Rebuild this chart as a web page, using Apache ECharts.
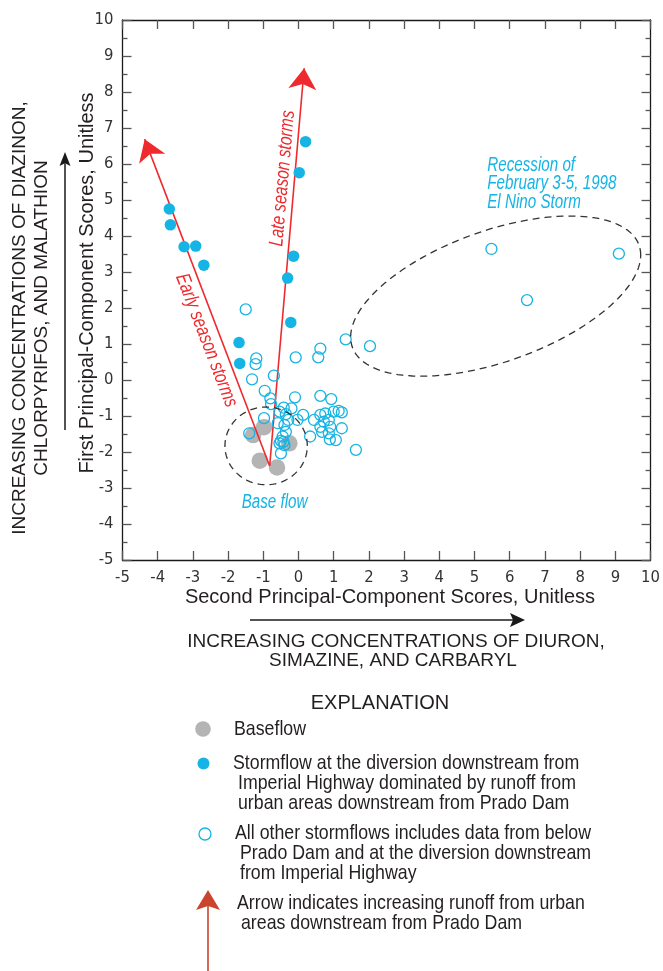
<!DOCTYPE html>
<html>
<head>
<meta charset="utf-8">
<script src="https://cdn.jsdelivr.net/npm/echarts@6/dist/echarts.min.js"></script>
<style>
  html, body { margin: 0; padding: 0; background: #fff; }
  #chart { width: 663px; height: 971px; }
</style>
</head>
<body>
<div id="chart"></div>
<script>
// Principal-component scores: [second PC score, first PC score]
const baseflow = [
  [-0.98, -1.31], [-1.29, -1.53], [-1.10, -2.24], [-0.61, -2.43], [-0.26, -1.76]
];
const urbanStormflow = [
  [0.20, 6.62], [0.02, 5.76], [-3.67, 4.75], [-3.64, 4.31], [-3.25, 3.70],
  [-2.92, 3.72], [-2.69, 3.19], [-0.14, 3.44], [-0.31, 2.83], [-0.22, 1.60],
  [-1.69, 1.04], [-1.67, 0.46]
];
const otherStormflow = [
  [-1.50, 1.96], [-1.20, 0.60], [-1.22, 0.44], [-1.32, 0.02], [-0.96, -0.30],
  [-0.70, 0.12], [-0.08, 0.63], [0.62, 0.87], [0.56, 0.63], [1.34, 1.13],
  [2.03, 0.94], [-0.80, -0.51], [-0.78, -0.67], [-0.10, -0.48], [0.62, -0.44],
  [0.93, -0.53], [-0.42, -0.77], [-0.20, -0.79], [-0.54, -0.88], [-0.36, -0.95],
  [-0.03, -1.11], [0.13, -0.97], [-0.29, -1.11], [-0.98, -1.06], [-0.59, -1.20],
  [-0.40, -1.25], [-0.36, -1.44], [-0.45, -1.57], [-0.50, -1.69], [-0.43, -1.72],
  [-0.54, -1.76], [-0.40, -1.81], [-0.50, -2.04], [-1.40, -1.48], [0.44, -1.11],
  [0.62, -0.97], [0.76, -0.93], [1.00, -0.88], [1.14, -0.86], [1.23, -0.90],
  [0.72, -1.16], [0.86, -1.11], [0.62, -1.30], [0.90, -1.30], [1.23, -1.34],
  [0.33, -1.57], [0.67, -1.44], [0.86, -1.48], [1.06, -1.67], [0.89, -1.65],
  [1.63, -1.94], [5.48, 3.64], [6.49, 2.22], [9.10, 3.51]
];
// Seasonal trend arrows start from the base-flow cluster
const trendOrigin = [-0.82, -2.39];
const earlySeasonTip = [-4.37, 6.69];
const lateSeasonTip = [0.16, 8.66];

const axisMin = -5, axisMax = 10, axisStep = 1;

const CYAN = '#15b4e4';
const RED = '#ee2a2e';
const GREY = '#b4b4b4';
const INK = '#231f20';
const CONDENSED = "'DejaVu Sans Condensed', 'DejaVu Sans', sans-serif";
const SANS = "'Liberation Sans', Arial, Helvetica, sans-serif";

const chart = echarts.init(document.getElementById('chart'), null, { renderer: 'canvas' });

function valueAxis(extra) {
  return Object.assign({
    type: 'value', min: axisMin, max: axisMax, interval: axisStep,
    axisLine: { show: true, onZero: false, lineStyle: { color: '#1a1a1a', width: 1.3 } },
    axisTick: { show: true, inside: true, length: 9, lineStyle: { color: '#555', width: 1.3 } },
    splitLine: { show: false },
    axisLabel: { show: false }
  }, extra);
}
const tickLabel = { show: true, fontFamily: CONDENSED, fontSize: 16.5, color: '#333', margin: 9 };
const minor = { show: true, splitNumber: 2, length: 5, lineStyle: { color: '#555', width: 1.3 } };

chart.setOption({
  animation: false,
  backgroundColor: '#fff',
  grid: { left: 122.5, top: 20, width: 536.5, height: 540, containLabel: false },
  xAxis: [
    valueAxis({ position: 'bottom', axisLabel: tickLabel }),
    valueAxis({ position: 'top' })
  ],
  yAxis: [
    valueAxis({ position: 'left', minorTick: minor, axisLabel: tickLabel }),
    valueAxis({ position: 'right', minorTick: minor })
  ],
  series: [
    {
      type: 'scatter', name: 'Baseflow', data: baseflow, symbolSize: 16.5,
      itemStyle: { color: GREY, opacity: 1 }, z: 2
    },
    {
      type: 'lines', coordinateSystem: 'cartesian2d', z: 3,
      symbol: ['none', 'arrow'], symbolSize: [17, 21],
      lineStyle: { color: RED, width: 1.6, opacity: 1, curveness: 0 },
      data: [
        { coords: [trendOrigin, earlySeasonTip] },
        { coords: [trendOrigin, lateSeasonTip] }
      ]
    },
    {
      type: 'scatter', name: 'All other stormflows', data: otherStormflow, symbolSize: 11,
      itemStyle: { color: 'rgba(255,255,255,0)', borderColor: CYAN, borderWidth: 1.3, opacity: 1 }, z: 4
    },
    {
      type: 'scatter', name: 'Stormflow', data: urbanStormflow, symbolSize: 11.5,
      itemStyle: { color: CYAN, opacity: 1 }, z: 5
    }
  ]
});

// ---- annotations and explanation ----
const toPx = (p) => chart.convertToPixel({ gridIndex: 0 }, p);
const origin = toPx([0, 0]);
const unitX = toPx([1, 0])[0] - origin[0];
const unitY = origin[1] - toPx([0, 1])[1];

// dashed outline: x = cx + a·cos t, y = cy + c·cos t + d·sin t (data units)
function ring(center, a, c, d) {
  const p0 = toPx(center);
  const pts = [];
  for (let i = 0; i <= 144; i++) {
    const t = i / 144 * Math.PI * 2;
    pts.push([p0[0] + a * Math.cos(t) * unitX, p0[1] - (c * Math.cos(t) + d * Math.sin(t)) * unitY]);
  }
  return {
    type: 'polyline', silent: true, z: 6,
    shape: { points: pts },
    style: { stroke: '#333', lineWidth: 1.3, lineDash: [7, 5], fill: null }
  };
}

function label(text, x, y, opts) {
  const o = opts || {};
  return {
    type: 'text', x: x, y: y, rotation: (o.rot || 0) * Math.PI / 180,
    scaleX: o.sx || 1, scaleY: 1, z: 10, silent: true,
    style: {
      text: text, x: 0, y: 0,
      fill: o.color || INK,
      font: (o.italic ? 'italic ' : '') + (o.size || 18) + 'px ' + (o.family || SANS),
      align: o.align || 'left', textAlign: o.align || 'left',
      verticalAlign: 'middle', textVerticalAlign: 'middle'
    }
  };
}
function dataLabel(text, pos, opts) {
  const p = toPx(pos);
  return label(text, p[0], p[1], opts);
}
function arrow(x1, y1, x2, y2, color, len, half, width) {
  const dx = x2 - x1, dy = y2 - y1, d = Math.hypot(dx, dy);
  const ux = dx / d, uy = dy / d, nx = -uy, ny = ux;
  const bx = x2 - ux * len, by = y2 - uy * len;
  const notch = [x2 - ux * len * 0.8, y2 - uy * len * 0.8];
  return [
    { type: 'line', silent: true, shape: { x1: x1, y1: y1, x2: notch[0], y2: notch[1] },
      style: { stroke: color, lineWidth: width } },
    { type: 'polygon', silent: true,
      shape: { points: [[x2, y2], [bx + nx * half, by + ny * half], notch, [bx - nx * half, by - ny * half]] },
      style: { fill: color } }
  ];
}

const note = { color: CYAN, size: 20, italic: true, sx: 0.76 };
const legend = { size: 21, sx: 0.845 };

const g = [];
g.push(ring([-0.92, -1.83], 1.17, 0, 1.08));
g.push(ring([5.60, 2.33], 4.12, 1.14, 1.91));

g.push(dataLabel('Early season storms', [-2.62, 1.10], { color: RED, size: 20, italic: true, sx: 0.78, align: 'center', rot: -68.9 }));
g.push(dataLabel('Late season storms', [-0.45, 5.60], { color: RED, size: 20, italic: true, sx: 0.78, align: 'center', rot: 85 }));
g.push(dataLabel('Recession of', [5.36, 5.97], note));
g.push(dataLabel('February 3-5, 1998', [5.36, 5.47], note));
g.push(dataLabel('El Nino Storm', [5.36, 4.94], note));
g.push(dataLabel('Base flow', [-0.68, -3.39], Object.assign({ align: 'center' }, note)));

// axis titles
g.push(label('Second Principal-Component Scores, Unitless', 390, 597, { size: 20, align: 'center' }));
g.push(label('First Principal-Component Scores, Unitless', 87, 283, { size: 20, align: 'center', rot: 90 }));
g.push(label('INCREASING CONCENTRATIONS OF DIURON,', 396, 642, { size: 19, align: 'center' }));
g.push(label('SIMAZINE, AND CARBARYL', 393, 661, { size: 19, align: 'center' }));
g.push(label('INCREASING CONCENTRATIONS OF DIAZINON,', 20, 318, { size: 19, align: 'center', rot: 90 }));
g.push(label('CHLORPYRIFOS, AND MALATHION', 42, 318, { size: 19, align: 'center', rot: 90 }));
arrow(250, 620, 525, 620, '#1a1a1a', 15, 7, 1.5).forEach(e => g.push(e));
arrow(65, 430, 65, 152, '#1a1a1a', 14, 5.5, 1.5).forEach(e => g.push(e));

// explanation
g.push(label('EXPLANATION', 380, 703, { size: 20, align: 'center' }));
g.push({ type: 'circle', silent: true, shape: { cx: 203, cy: 729, r: 7.8 }, style: { fill: GREY } });
g.push(label('Baseflow', 234, 729, legend));
g.push({ type: 'circle', silent: true, shape: { cx: 203.5, cy: 763.5, r: 6 }, style: { fill: CYAN } });
g.push(label('Stormflow at the diversion downstream from', 233, 763, legend));
g.push(label('Imperial Highway dominated by runoff from', 238, 783, legend));
g.push(label('urban areas downstream from Prado Dam', 238, 803, legend));
g.push({ type: 'circle', silent: true, shape: { cx: 205, cy: 834, r: 6 }, style: { fill: null, stroke: CYAN, lineWidth: 1.3 } });
g.push(label('All other stormflows includes data from below', 235, 833, legend));
g.push(label('Prado Dam and at the diversion downstream', 240, 853, legend));
g.push(label('from Imperial Highway', 240, 873, legend));
arrow(208, 971, 208, 890, '#c9452d', 20, 12, 1.6).forEach(e => g.push(e));
g.push(label('Arrow indicates increasing runoff from urban', 237, 903, legend));
g.push(label('areas downstream from Prado Dam', 241, 923, legend));

chart.setOption({ graphic: { elements: g } });
</script>
</body>
</html>
